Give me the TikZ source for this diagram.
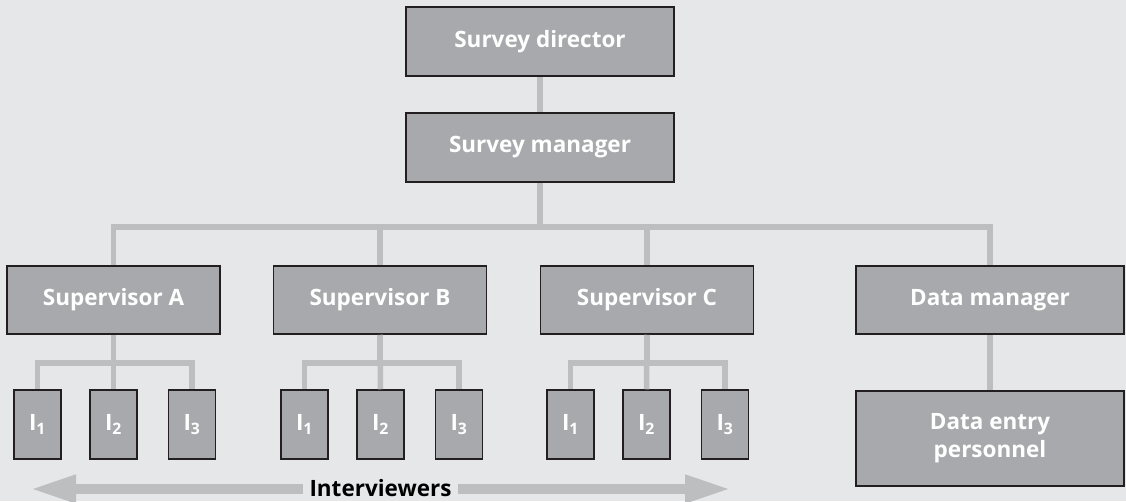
\documentclass[tikz,border=0pt]{standalone}
\usepackage{fontspec}
\setmainfont{Open Sans}
\usetikzlibrary{arrows.meta}

\definecolor{bgcol}{HTML}{E6E7E8}
\definecolor{boxcol}{HTML}{A7A9AC}
\definecolor{linkcol}{HTML}{BCBEC0}
\definecolor{edgecol}{HTML}{231F20}

\tikzset{
  box/.style={draw=edgecol, line width=1.5pt, fill=boxcol, text=white,
    font=\fontsize{22.5}{28}\selectfont\bfseries, inner sep=0pt, align=center},
  ibox/.style={box, minimum width=47pt, minimum height=69pt},
  link/.style={linkcol, line width=5.5pt},
}

\begin{document}
\begin{tikzpicture}[x=1pt, y=-1pt]

\fill [bgcol] (0, 0) rectangle (1126, 501);
\useasboundingbox (0, 0) rectangle (1126, 501);

% top of the tree
\node [box, minimum width=268pt, minimum height=69pt] (director) at (540, 41.5) {Survey director};
\node [box, minimum width=268pt, minimum height=69pt] (manager) at (540, 147.5) {Survey manager};

% supervisors
\node [box, minimum width=213pt, minimum height=68pt] (supA) at (113.5, 300) {Supervisor A};
\node [box, minimum width=213pt, minimum height=68pt] (supB) at (380, 300) {Supervisor B};
\node [box, minimum width=213pt, minimum height=68pt] (supC) at (647, 300) {Supervisor C};
\node [box, minimum width=268pt, minimum height=68pt] (datamgr) at (990, 300) {Data manager};
\node [box, minimum width=268pt, minimum height=95pt] (entry) at (990, 438.5) {Data entry\\personnel};

% interviewers
\node [ibox] (a1) at (37.5, 424.5) {I\textsubscript{1}};
\node [ibox] (a2) at (113.5, 424.5) {I\textsubscript{2}};
\node [ibox] (a3) at (192, 424.5) {I\textsubscript{3}};

\node [ibox] (b1) at (304.5, 424.5) {I\textsubscript{1}};
\node [ibox] (b2) at (380.5, 424.5) {I\textsubscript{2}};
\node [ibox] (b3) at (459, 424.5) {I\textsubscript{3}};

\node [ibox] (c1) at (570.5, 424.5) {I\textsubscript{1}};
\node [ibox] (c2) at (646.5, 424.5) {I\textsubscript{2}};
\node [ibox] (c3) at (725, 424.5) {I\textsubscript{3}};

% connectors
\draw [link] (director.south) -- (manager.north);
\draw [link] (manager.south) -- ++(0, 44) -| (supA.north);
\draw [link] (manager.south) -- ++(0, 44) -| (supB.north);
\draw [link] (manager.south) -- ++(0, 44) -| (supC.north);
\draw [link] (manager.south) -- ++(0, 44) -| (datamgr.north);
\draw [link] (datamgr.south) -- (entry.north);

\draw [link] (supA.south) -- ++(0, 28) -| (a1.north);
\draw [link] (supA.south) -- (a2.north);
\draw [link] (supA.south) -- ++(0, 28) -| (a3.north);
\draw [link] (supB.south) -- ++(0, 28) -| (b1.north);
\draw [link] (supB.south) -- (b2.north);
\draw [link] (supB.south) -- ++(0, 28) -| (b3.north);
\draw [link] (supC.south) -- ++(0, 28) -| (c1.north);
\draw [link] (supC.south) -- (c2.north);
\draw [link] (supC.south) -- ++(0, 28) -| (c3.north);

% interviewers arrow
\node [font=\fontsize{22.5}{28}\selectfont\bfseries, inner sep=6pt] (iview) at (380.5, 488) {Interviewers};
\coordinate (leftend) at (30, 489);
\coordinate (rightend) at (731, 489);
\draw [linkcol, line width=10pt, -{Triangle[length=46pt, width=26pt]}] (iview.west |- leftend) -- (leftend);
\draw [linkcol, line width=10pt, -{Triangle[length=46pt, width=26pt]}] (iview.east |- rightend) -- (rightend);

\end{tikzpicture}
\end{document}
